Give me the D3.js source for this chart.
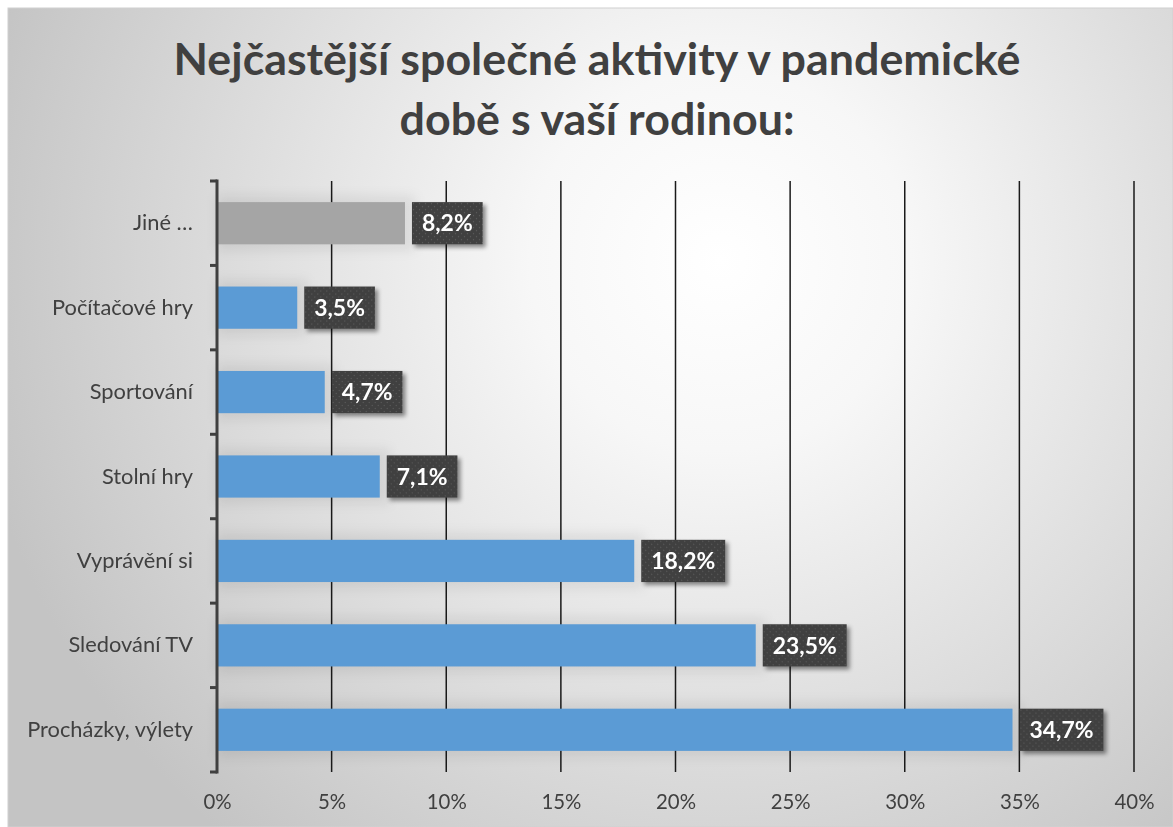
<!DOCTYPE html>
<html>
<head>
<meta charset="utf-8">
<style>
html, body {
  margin: 0px;
  padding: 0px;
  border: 0px;
  background: #fff;
}
svg { display: block; }
</style>
</head>
<body>
<div id="chart"></div>
<script src="https://cdn.jsdelivr.net/npm/d3@7/dist/d3.min.js"></script>
<script>
  var categories = ["Jiné …", "Počítačové hry", "Sportování", "Stolní hry", "Vyprávění si", "Sledování TV", "Procházky, výlety"];
  var values = [8.2, 3.5, 4.7, 7.1, 18.2, 23.5, 34.7];
  var barColors = ["#a5a5a5", "#5b9bd5", "#5b9bd5", "#5b9bd5", "#5b9bd5", "#5b9bd5", "#5b9bd5"];
  var xTicks = [0, 5, 10, 15, 20, 25, 30, 35, 40];
  var titleLines = ["Nejčastější společné aktivity v pandemické", "době s vaší rodinou:"];

  var W = 1173, H = 827;
  var font = "Lato, 'Open Sans', sans-serif";

  var svg = d3.select("#chart").append("svg")
    .attr("width", W)
    .attr("height", H);

  // pick a font size so that a sample string gets the width it has in the original
  function fitSize(text, weight, target) {
    var t = svg.append("text")
      .attr("font-family", font)
      .attr("font-weight", weight)
      .attr("font-size", 20)
      .text(text);
    var w = t.node().getComputedTextLength();
    t.remove();
    return 20 * target / w;
  }

  var defs = svg.append("defs");

  // background glow, white in the middle, grey at the edges
  var bg = defs.append("radialGradient")
    .attr("id", "bg")
    .attr("gradientUnits", "userSpaceOnUse")
    .attr("cx", 720).attr("cy", 260).attr("r", 760);
  bg.append("stop").attr("offset", "0").attr("stop-color", "#ffffff");
  bg.append("stop").attr("offset", "0.25").attr("stop-color", "#f7f7f7");
  bg.append("stop").attr("offset", "1").attr("stop-color", "#c4c4c4");

  var dots = defs.append("pattern")
    .attr("id", "dots")
    .attr("patternUnits", "userSpaceOnUse")
    .attr("width", 6).attr("height", 6);
  dots.append("rect").attr("width", 6).attr("height", 6).attr("fill", "#3f3f3f");
  dots.append("circle").attr("cx", 1.5).attr("cy", 1.5).attr("r", 0.7).attr("fill", "#5c5c5c");
  dots.append("circle").attr("cx", 4.5).attr("cy", 4.5).attr("r", 0.7).attr("fill", "#5c5c5c");

  var shadow = defs.append("filter").attr("id", "shadow")
    .attr("x", "-20%").attr("y", "-30%").attr("width", "150%").attr("height", "170%");
  shadow.append("feDropShadow")
    .attr("dx", 3).attr("dy", 3).attr("stdDeviation", 2)
    .attr("flood-color", "#000").attr("flood-opacity", 0.45);

  var glow = defs.append("filter").attr("id", "glow")
    .attr("x", "-10%").attr("y", "-60%").attr("width", "120%").attr("height", "220%");
  glow.append("feGaussianBlur").attr("stdDeviation", 6);

  svg.append("rect")
    .attr("x", 8).attr("y", 8)
    .attr("width", W - 8).attr("height", H - 8)
    .attr("fill", "url(#bg)")
    .attr("stroke", "#d0d0d0");

  // title
  var titleSize = fitSize(titleLines[0], "bold", 847);
  svg.append("g")
    .selectAll("text")
    .data(titleLines)
    .enter()
    .append("text")
    .attr("x", 597)
    .attr("y", function (d, i) { return 75 + i * 60; })
    .attr("text-anchor", "middle")
    .attr("font-family", font)
    .attr("font-weight", "bold")
    .attr("font-size", titleSize)
    .attr("fill", "#404040")
    .text(function (d) { return d; });

  var margin = { left: 217, right: W - 1134, top: 181, bottom: H - 772 };

  var x = d3.scaleLinear()
    .domain([0, 40])
    .range([margin.left, W - margin.right]);

  var y = d3.scaleBand()
    .domain(categories)
    .range([margin.top, H - margin.bottom])
    .paddingInner(0.5)
    .paddingOuter(0.25);

  // gridlines
  svg.append("g")
    .selectAll("line")
    .data(xTicks.slice(1))
    .enter()
    .append("line")
    .attr("x1", function (d) { return x(d); })
    .attr("x2", function (d) { return x(d); })
    .attr("y1", margin.top)
    .attr("y2", H - margin.bottom)
    .attr("stroke", "#1a1a1a")
    .attr("stroke-width", 1.5);

  // soft glow behind bars
  svg.append("g")
    .attr("filter", "url(#glow)")
    .selectAll("rect")
    .data(values)
    .enter()
    .append("rect")
    .attr("x", x(0))
    .attr("y", function (d, i) { return y(categories[i]) - 6; })
    .attr("width", function (d) { return x(d) - x(0) + 10; })
    .attr("height", y.bandwidth() + 12)
    .attr("fill", "#000")
    .attr("opacity", 0.07);

  // bars
  svg.append("g")
    .selectAll("rect")
    .data(values)
    .enter()
    .append("rect")
    .attr("x", x(0))
    .attr("y", function (d, i) { return y(categories[i]); })
    .attr("width", function (d) { return x(d) - x(0); })
    .attr("height", y.bandwidth())
    .attr("fill", function (d, i) { return barColors[i]; });

  // x axis labels
  var tickSize = fitSize("40%", "normal", 40);
  var xAxis = svg.append("g")
    .attr("transform", "translate(0," + (H - margin.bottom) + ")")
    .call(d3.axisBottom(x).tickValues(xTicks).tickSize(0).tickPadding(23)
      .tickFormat(function (d) { return d + "%"; }));
  xAxis.select(".domain").remove();
  xAxis.selectAll("text")
    .attr("font-family", font)
    .attr("font-size", tickSize)
    .attr("fill", "#404040");

  // y axis
  var catSize = fitSize("Procházky, výlety", "normal", 166);
  var yAxis = svg.append("g")
    .attr("transform", "translate(" + margin.left + ",0)")
    .call(d3.axisLeft(y).tickSize(0).tickPadding(24));
  yAxis.select(".domain").remove();
  yAxis.selectAll("text")
    .attr("font-family", font)
    .attr("font-size", catSize)
    .attr("fill", "#404040");

  var step = (H - margin.bottom - margin.top) / categories.length;
  var edges = d3.range(categories.length + 1).map(function (i) { return margin.top + i * step; });

  svg.append("g")
    .selectAll("line")
    .data(edges)
    .enter()
    .append("line")
    .attr("x1", margin.left - 7)
    .attr("x2", margin.left)
    .attr("y1", function (d) { return d; })
    .attr("y2", function (d) { return d; })
    .attr("stroke", "#404040")
    .attr("stroke-width", 3);

  svg.append("line")
    .attr("x1", margin.left).attr("x2", margin.left)
    .attr("y1", margin.top - 1.5).attr("y2", H - margin.bottom + 1.5)
    .attr("stroke", "#404040")
    .attr("stroke-width", 3);

  // data labels
  var lblSize = fitSize("34,7%", "bold", 64);
  var labels = svg.append("g")
    .selectAll("g")
    .data(values)
    .enter()
    .append("g")
    .attr("transform", function (d, i) { return "translate(" + (x(d) + 7) + "," + y(categories[i]) + ")"; });

  labels.append("text")
    .attr("x", 10)
    .attr("y", y.bandwidth() / 2)
    .attr("dy", "0.36em")
    .attr("font-family", font)
    .attr("font-weight", "bold")
    .attr("font-size", lblSize)
    .attr("fill", "#fff")
    .text(function (d) { return d3.format(".1f")(d).replace(".", ",") + "%"; });

  labels.insert("rect", "text")
    .attr("width", function () { return this.parentNode.querySelector("text").getComputedTextLength() + 20; })
    .attr("height", y.bandwidth())
    .attr("fill", "url(#dots)")
    .attr("filter", "url(#shadow)");
</script>
</body>
</html>
